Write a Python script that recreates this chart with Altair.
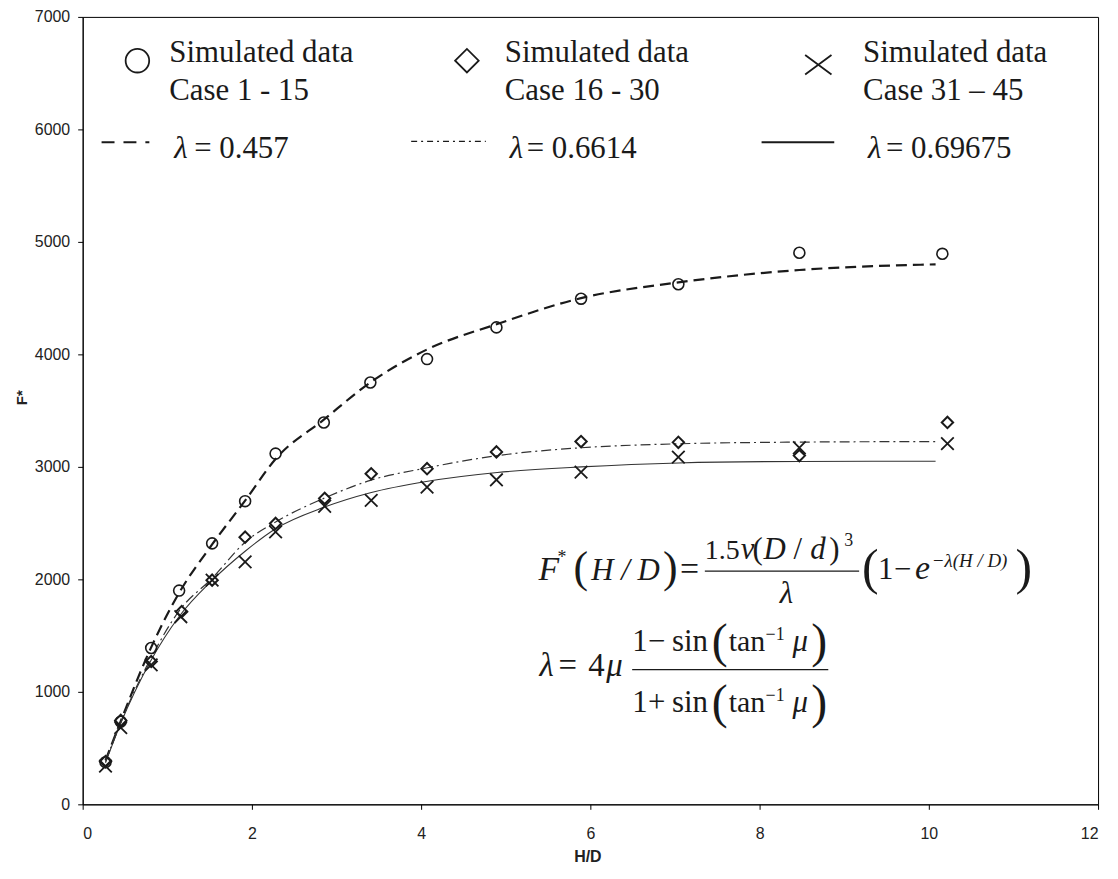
import altair as alt
import pandas as pd

# ---------------- data ----------------
CIRCLE_X = [0.27, 0.45, 0.81, 1.14, 1.53, 1.92, 2.28, 2.85, 3.40, 4.07, 4.89, 5.89, 7.04, 8.47, 10.16]
CIRCLE_Y = [375, 735, 1390, 1900, 2320, 2695, 3118, 3394, 3750, 3958, 4240, 4495, 4623, 4903, 4894]

DIAMOND_X = [0.27, 0.45, 0.81, 1.17, 1.53, 1.92, 2.28, 2.86, 3.41, 4.07, 4.89, 5.89, 7.04, 8.47, 10.22]
DIAMOND_Y = [380, 746, 1270, 1713, 1993, 2375, 2497, 2720, 2939, 2984, 3133, 3225, 3218, 3100, 3395]

CROSS_X = [0.27, 0.45, 0.81, 1.16, 1.53, 1.92, 2.28, 2.86, 3.41, 4.07, 4.89, 5.89, 7.04, 8.47, 10.22]
CROSS_Y = [340, 682, 1240, 1668, 1993, 2156, 2422, 2650, 2702, 2820, 2885, 2953, 3086, 3170, 3207]

FIT_X = [0.27, 0.45, 0.80, 1.14, 1.53, 1.92, 2.28, 2.85, 3.40, 4.06, 4.90, 5.89, 7.04, 8.47, 10.08]
FIT_0457 = [390, 740, 1380, 1880, 2310, 2700, 3070, 3420, 3750, 4040, 4270, 4500, 4640, 4750, 4800]
FIT_06614 = [380, 730, 1290, 1720, 2010, 2330, 2510, 2720, 2880, 2990, 3100, 3170, 3205, 3220, 3225]
FIT_069675 = [370, 720, 1270, 1670, 1990, 2250, 2450, 2640, 2770, 2870, 2950, 3000, 3035, 3048, 3050]

X_TICKS = [0, 2, 4, 6, 8, 10, 12]
Y_TICKS = [0, 1000, 2000, 3000, 4000, 5000, 6000, 7000]

# ---------------- table ----------------
rows = []
for s, xs, ys in [("c1", CIRCLE_X, CIRCLE_Y), ("c2", DIAMOND_X, DIAMOND_Y), ("c3", CROSS_X, CROSS_Y)]:
    for a, b in zip(xs, ys):
        rows.append({"series": s, "kind": "pt", "x": a, "y": b})
for s, ys in [("f1", FIT_0457), ("f2", FIT_06614), ("f3", FIT_069675)]:
    for a, b in zip(FIT_X, ys):
        rows.append({"series": s, "kind": "fit", "x": a, "y": b})
df = pd.DataFrame(rows)
dummy = pd.DataFrame({"k": [0]})

INK = "#1a1a1a"
SERIF = "Liberation Serif"
SANS = "Liberation Sans"
X_PATH = "M-1,-1L1,1M-1,1L1,-1"
X_PATH_LEG = "M-1,-0.74L1,0.74M-1,0.74L1,-0.74"

base = alt.Chart(df).encode(
    x=alt.X("x:Q", scale=alt.Scale(domain=[0, 12], nice=False, zero=False),
            axis=alt.Axis(values=X_TICKS, format="d", title="H/D", grid=False,
                          tickSize=5, labelPadding=16, titleX=507, titleY=52,
                          titleAlign="center", titleBaseline="middle",
                          titleFontSize=16, titleFont=SANS, titleFontWeight="bold")),
    y=alt.Y("y:Q", scale=alt.Scale(domain=[0, 7000], nice=False),
            axis=alt.Axis(values=Y_TICKS, format="d", title="F*", grid=False,
                          tickSize=5, labelPadding=8, titleX=-61, titleY=382,
                          titleAngle=270, titleAlign="center", titleBaseline="middle",
                          titleFontSize=15, titleFont=SANS, titleFontWeight="bold")),
)

def flt(s):
    return base.transform_filter(alt.datum.series == s)

fit1 = flt("f1").mark_line(color=INK, strokeWidth=2.2, strokeDash=[11, 6], interpolate="monotone")
fit2 = flt("f2").mark_line(color="#333", strokeWidth=1.2, strokeDash=[10, 4, 2, 4], interpolate="monotone")
fit3 = flt("f3").mark_line(color="#333", strokeWidth=1.1, interpolate="monotone")

pts1 = flt("c1").mark_point(shape="circle", size=121, filled=False, strokeWidth=1.6, color=INK, opacity=1)
pts2 = flt("c2").mark_point(shape="diamond", size=130, filled=False, strokeWidth=2, color=INK, opacity=1)
pts3 = flt("c3").mark_point(shape=X_PATH, size=160, filled=False, strokeWidth=1.8, color=INK, opacity=1)


def txt(s, x, y, size, italic=False, align="left"):
    return alt.Chart(dummy).mark_text(
        text=s, align=align, baseline="alphabetic", fontSize=size, font=SERIF,
        fontStyle="italic" if italic else "normal", color=INK
    ).encode(x=alt.value(x), y=alt.value(y))


def hline(x1, x2, y, width=1.3, dash=None):
    kw = dict(color=INK, strokeWidth=width)
    if dash:
        kw["strokeDash"] = dash
    return alt.Chart(dummy).mark_rule(**kw).encode(x=alt.value(x1), x2=alt.value(x2), y=alt.value(y))


def sym(shape, x, y, size, sw=2):
    return alt.Chart(dummy).mark_point(shape=shape, size=size, filled=False, strokeWidth=sw,
                                       color=INK, opacity=1).encode(x=alt.value(x), y=alt.value(y))


ann = []
# legend: symbols + text
ann += [sym("circle", 55, 44, 560, 1.8), sym("diamond", 386, 44, 560, 1.8), sym(X_PATH_LEG, 739, 48, 700, 1.8)]
ann += [txt("Simulated data", 87, 45.5, 31), txt("Case 1 - 15", 87, 83, 31),
        txt("Simulated data", 424, 45.5, 31), txt("Case 16 - 30", 424, 83, 31),
        txt("Simulated data", 784, 45.5, 31), txt("Case 31 \u2013 45", 784, 83, 31)]
# legend: lines
ann += [hline(19, 67, 126, 2, [13, 9]), hline(330, 405, 125, 1.3, [6, 4, 2, 4]), hline(682, 755, 126, 2)]
ann += [txt("\u03bb", 92, 141.5, 31, True), txt("= 0.457", 112, 141.5, 31),
        txt("\u03bb", 429, 141.5, 31, True), txt("= 0.6614", 446, 141.5, 31),
        txt("\u03bb", 789, 141.5, 31, True), txt("= 0.69675", 807, 141.5, 31)]

# equation 1
ann += [txt("F", 458, 566, 34, True), txt("*", 477, 549, 18),
        txt("(", 493, 568, 44), txt("H / D", 511, 566, 31, True), txt(")", 583, 568, 44),
        txt("=", 600, 566, 34),
        txt("1.5", 625, 545, 28), txt("\u03bd", 661, 545, 31, True), txt("(", 673, 545, 31),
        txt("D", 684, 545, 31, True), txt("/", 714, 545, 31), txt("d", 731, 545, 31, True),
        txt(")", 750, 545, 31), txt("3", 765, 531, 18),
        hline(625, 780, 556.7, 1.3),
        txt("\u03bb", 707, 589, 31, True, "center"),
        txt("(", 783, 570, 50), txt("1", 799, 565, 31), txt("\u2212", 815, 565, 31),
        txt("e", 836, 565, 34, True), txt("\u2212\u03bb(H / D)", 853, 553, 19, True),
        txt(")", 937, 570, 50)]

# equation 2
ann += [txt("\u03bb", 459, 662, 33, True), txt("=", 478, 662, 33), txt("4", 508, 662, 33),
        txt("\u03bc", 526, 662, 33, True)]
for yb, sign in [(637, "\u2212"), (698, "+")]:
    ann += [txt("1", 552, yb, 31), txt(sign, 568, yb, 31), txt("sin", 592, yb, 31),
            txt("(", 632, yb + 6, 48), txt("tan", 649, yb, 30), txt("\u22121", 686, yb - 11, 18),
            txt("\u03bc", 713, yb, 31, True), txt(")", 732, yb + 6, 48)]
ann += [hline(552, 749, 655.7, 1.3)]

chart = alt.layer(fit1, fit2, fit3, pts1, pts2, pts3, *ann).properties(
    width=1020, height=791, autosize="none",
    padding={"left": 75, "top": 7, "right": 12, "bottom": 60},
    background="white",
).configure_view(stroke="black", strokeWidth=1).configure_axis(
    domainColor="black", tickColor="black", labelFont=SANS, labelFontSize=16,
    labelColor="#222", titleColor="#222",
)

chart.save("out.html", embed_options={"renderer": "svg", "actions": False})
